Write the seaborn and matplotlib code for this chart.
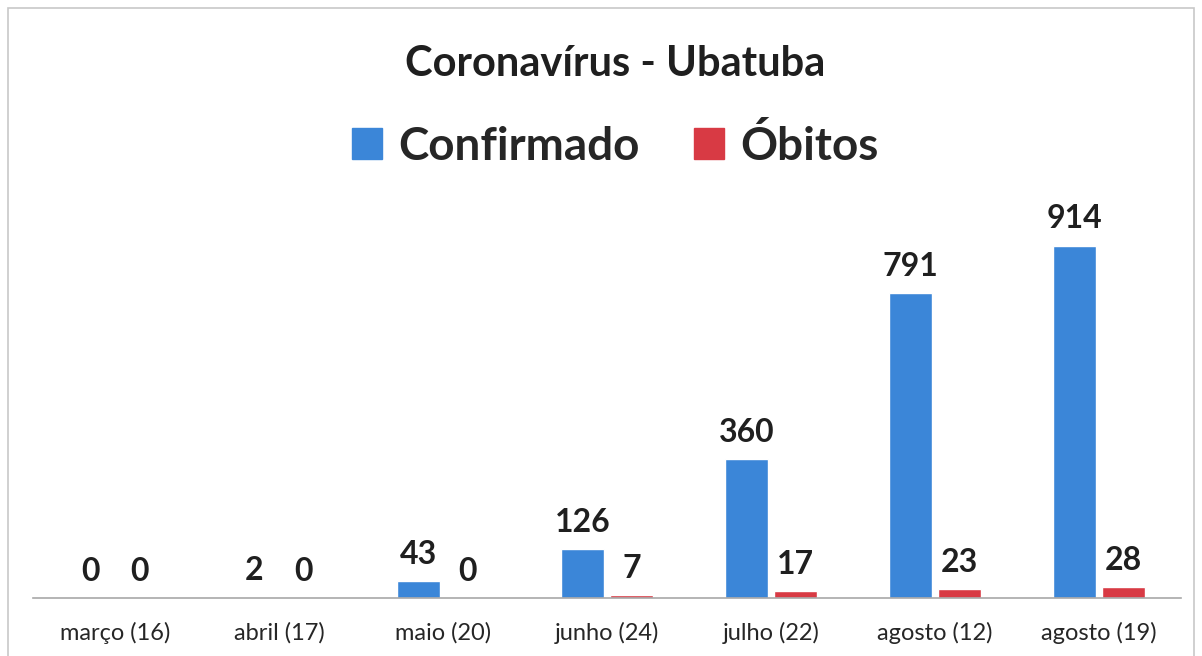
import pandas as pd
import seaborn as sns
from matplotlib import pyplot as plt
from matplotlib.patches import Rectangle

# data
categorias = ['março (16)', 'abril (17)', 'maio (20)', 'junho (24)',
              'julho (22)', 'agosto (12)', 'agosto (19)']
confirmados = [0, 2, 43, 126, 360, 791, 914]
obitos = [0, 0, 0, 7, 17, 23, 28]
series = ['Confirmado', 'Óbitos']
cores = ['#3b86d8', '#d83a44']

df = pd.DataFrame({
    'data': categorias * 2,
    'valor': confirmados + obitos,
    'serie': [series[0]] * len(categorias) + [series[1]] * len(categorias),
})

sns.set_style('white')
plt.rcParams['font.family'] = ['Lato', 'DejaVu Sans']

fig = plt.figure(figsize=(12.02, 6.56), dpi=100)
ax = fig.add_axes([0.0275, 0.0884, 0.955, 0.607])

sns.barplot(data=df, x='data', y='valor', hue='serie', palette=cores,
            saturation=1, width=0.6, gap=0.12, ax=ax, legend=False)

ax.set_ylim(0, 1033)
ax.set_xlim(-0.5, len(categorias) - 0.5)

# value labels above each bar
for cont in ax.containers:
    for bar in cont:
        h = bar.get_height()
        ax.annotate('{:d}'.format(int(round(h))),
                    (bar.get_x() + bar.get_width() / 2, h),
                    xytext=(0, 9), textcoords='offset points',
                    ha='center', va='bottom', fontsize=23,
                    fontweight='bold', color='#1f1f1f')

ax.set_xlabel('')
ax.set_ylabel('')
ax.set_yticks([])
ax.tick_params(axis='x', labelsize=17, colors='#262626', length=0, pad=17)
for s in ['top', 'right', 'left']:
    ax.spines[s].set_visible(False)
ax.spines['bottom'].set_color('#a8a8a8')
ax.spines['bottom'].set_linewidth(1.2)
ax.set_facecolor('none')

fig.text(0.5115, 0.903, 'Coronavírus - Ubatuba', ha='center', va='center',
         fontsize=30, fontweight='bold', color='#1f1f1f')

# legend drawn by hand: big squares and text
handles = [Rectangle((0, 0), 1, 1, color=c) for c in cores]
leg = fig.legend(handles, series, loc='center', bbox_to_anchor=(0.512, 0.777),
                 ncol=2, frameon=False, handlelength=0.65, handleheight=0.65,
                 handletextpad=0.35, columnspacing=1.2,
                 prop={'family': 'Lato', 'weight': 'bold', 'size': 33})

# thin border like the scanned chart frame
fig.patches.append(Rectangle((0.007, -0.05), 0.986, 1.038, transform=fig.transFigure,
                             fill=False, edgecolor='#c8c8c8', linewidth=1.2))

fig.savefig('out.png', dpi=100, facecolor='white')
